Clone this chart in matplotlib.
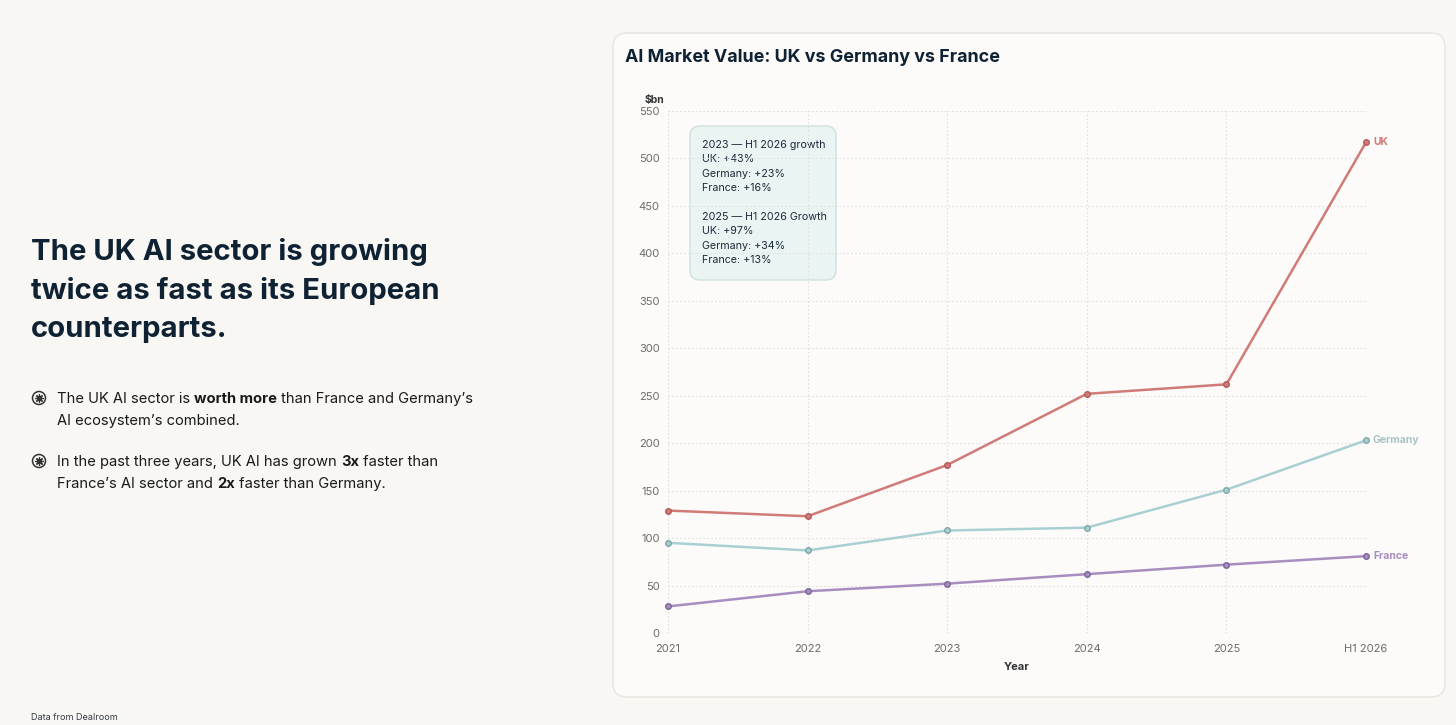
import matplotlib
matplotlib.use('Agg')
import matplotlib.pyplot as plt
from matplotlib.patches import FancyBboxPatch, Circle

plt.rcParams['font.family'] = ['Inter', 'DejaVu Sans']

# data ($bn)
years = ['2021', '2022', '2023', '2024', '2025', 'H1 2026']
uk = [129, 123, 177, 252, 262, 517]
germany = [95, 87, 108, 111, 151, 203]
france = [28, 44, 52, 62, 72, 81]
y_ticks = list(range(0, 551, 50))

note_lines = ['2023 \u2014 H1 2026 growth', 'UK: +43%', 'Germany: +23%', 'France: +16%', '',
              '2025 \u2014 H1 2026 Growth', 'UK: +97%', 'Germany: +34%', 'France: +13%']
headline = ['The UK AI sector is growing', 'twice as fast as its European', 'counterparts.']
bullets = [
    [[('The UK AI sector is ', 'normal'), ('worth more', 'bold'), (' than France and Germany\u2019s', 'normal')],
     [('AI ecosystem\u2019s combined.', 'normal')]],
    [[('In the past three years, UK AI has grown ', 'normal'), ('3x', 'bold'), (' faster than', 'normal')],
     [('France\u2019s AI sector and ', 'normal'), ('2x', 'bold'), (' faster than Germany.', 'normal')]],
]

W, H = 1456, 725
BG = '#f8f7f3'
CARD = '#fcfbf9'
NAVY = '#0f2233'
c_uk, c_de, c_fr = '#d07b78', '#a8d0d2', '#a88dc0'
e_uk, e_de, e_fr = '#b45a58', '#7fa6aa', '#7e6598'

fig = plt.figure(figsize=(W / 100, H / 100), dpi=100, facecolor=BG)

# overlay in pixel coords for the page decoration
bg = fig.add_axes([0, 0, 1, 1], zorder=0)
bg.set_xlim(0, W)
bg.set_ylim(H, 0)
bg.axis('off')

bg.add_patch(FancyBboxPatch((613, 33), 832, 664, boxstyle='round,pad=0,rounding_size=14',
                            facecolor=CARD, edgecolor='#e8e6e0', lw=1.1))
bg.text(625, 57, 'AI Market Value: UK vs Germany vs France', fontsize=12.9, fontweight='bold',
        color=NAVY, va='center')

for i, line in enumerate(headline):
    bg.text(31, 252 + i * 38.5, line, fontsize=21.1, fontweight='bold', color=NAVY, va='center')

fig.canvas.draw()
rend = fig.canvas.get_renderer()


def rich_line(x, y, parts, size=10.6):
    for s, w in parts:
        t = bg.text(x, y, s, fontsize=size, fontweight=w, color='#1a1a1a', va='baseline')
        x += t.get_window_extent(renderer=rend).width


for j, b in enumerate(bullets):
    y0 = 403 + j * 63
    bg.add_patch(Circle((39, y0 - 5), 6.5, facecolor='none', edgecolor='#333333', lw=1.1))
    bg.plot(39, y0 - 5, marker=(8, 2, 0), ms=6, color='#333333', mew=0.9)
    for k, line in enumerate(b):
        rich_line(57, y0 + k * 22, line)

bg.text(31, 718, 'Data from Dealroom', fontsize=6.5, color='#333a44', va='center')

# chart axes
ax = fig.add_axes([668 / W, (H - 633) / H, (1366 - 668) / W, (633 - 111) / H], zorder=2)
ax.set_facecolor('none')
x = list(range(len(years)))
for vals, c, e in [(uk, c_uk, e_uk), (germany, c_de, e_de), (france, c_fr, e_fr)]:
    ax.plot(x, vals, color=c, lw=1.8, marker='o', ms=4, mfc=c, mec=e, mew=1, clip_on=False)

ax.set_xlim(0, len(years) - 1)
ax.set_ylim(0, 550)
ax.set_xticks(x)
ax.set_xticklabels(years)
ax.set_yticks(y_ticks)
ax.grid(True, color='#e0e0e0', ls=(0, (1.5, 2)), lw=0.8)
for s in ax.spines.values():
    s.set_visible(False)
ax.tick_params(length=0, labelsize=8, colors='#6b6b6b', pad=8)
ax.tick_params(axis='y', pad=6)
ax.set_xlabel('Year', fontsize=8, fontweight='bold', color='#333333', labelpad=6)
ax.text(-0.034, 1.021, '$bn', transform=ax.transAxes, fontsize=7.5, fontweight='bold',
        color='#333333', ha='left', va='center')

# end labels
for vals, c, name in [(uk, c_uk, 'UK'), (germany, '#a9c3c5', 'Germany'), (france, c_fr, 'France')]:
    ax.annotate(name, (x[-1], vals[-1]), xytext=(5, 0), textcoords='offset points',
                fontsize=7.5, fontweight='bold', color=c, va='center', annotation_clip=False)

# note box
bg.add_patch(FancyBboxPatch((690, 126), 146, 154, boxstyle='round,pad=0,rounding_size=10',
                            facecolor='#eaf5f3', edgecolor='#cfe0dc', lw=1, zorder=3))
for i, line in enumerate(note_lines):
    bg.text(702, 145 + i * 14.4, line, fontsize=7.7, color='#1a2a38', va='center', zorder=4)

fig.savefig('out.png', dpi=100, facecolor=BG)
